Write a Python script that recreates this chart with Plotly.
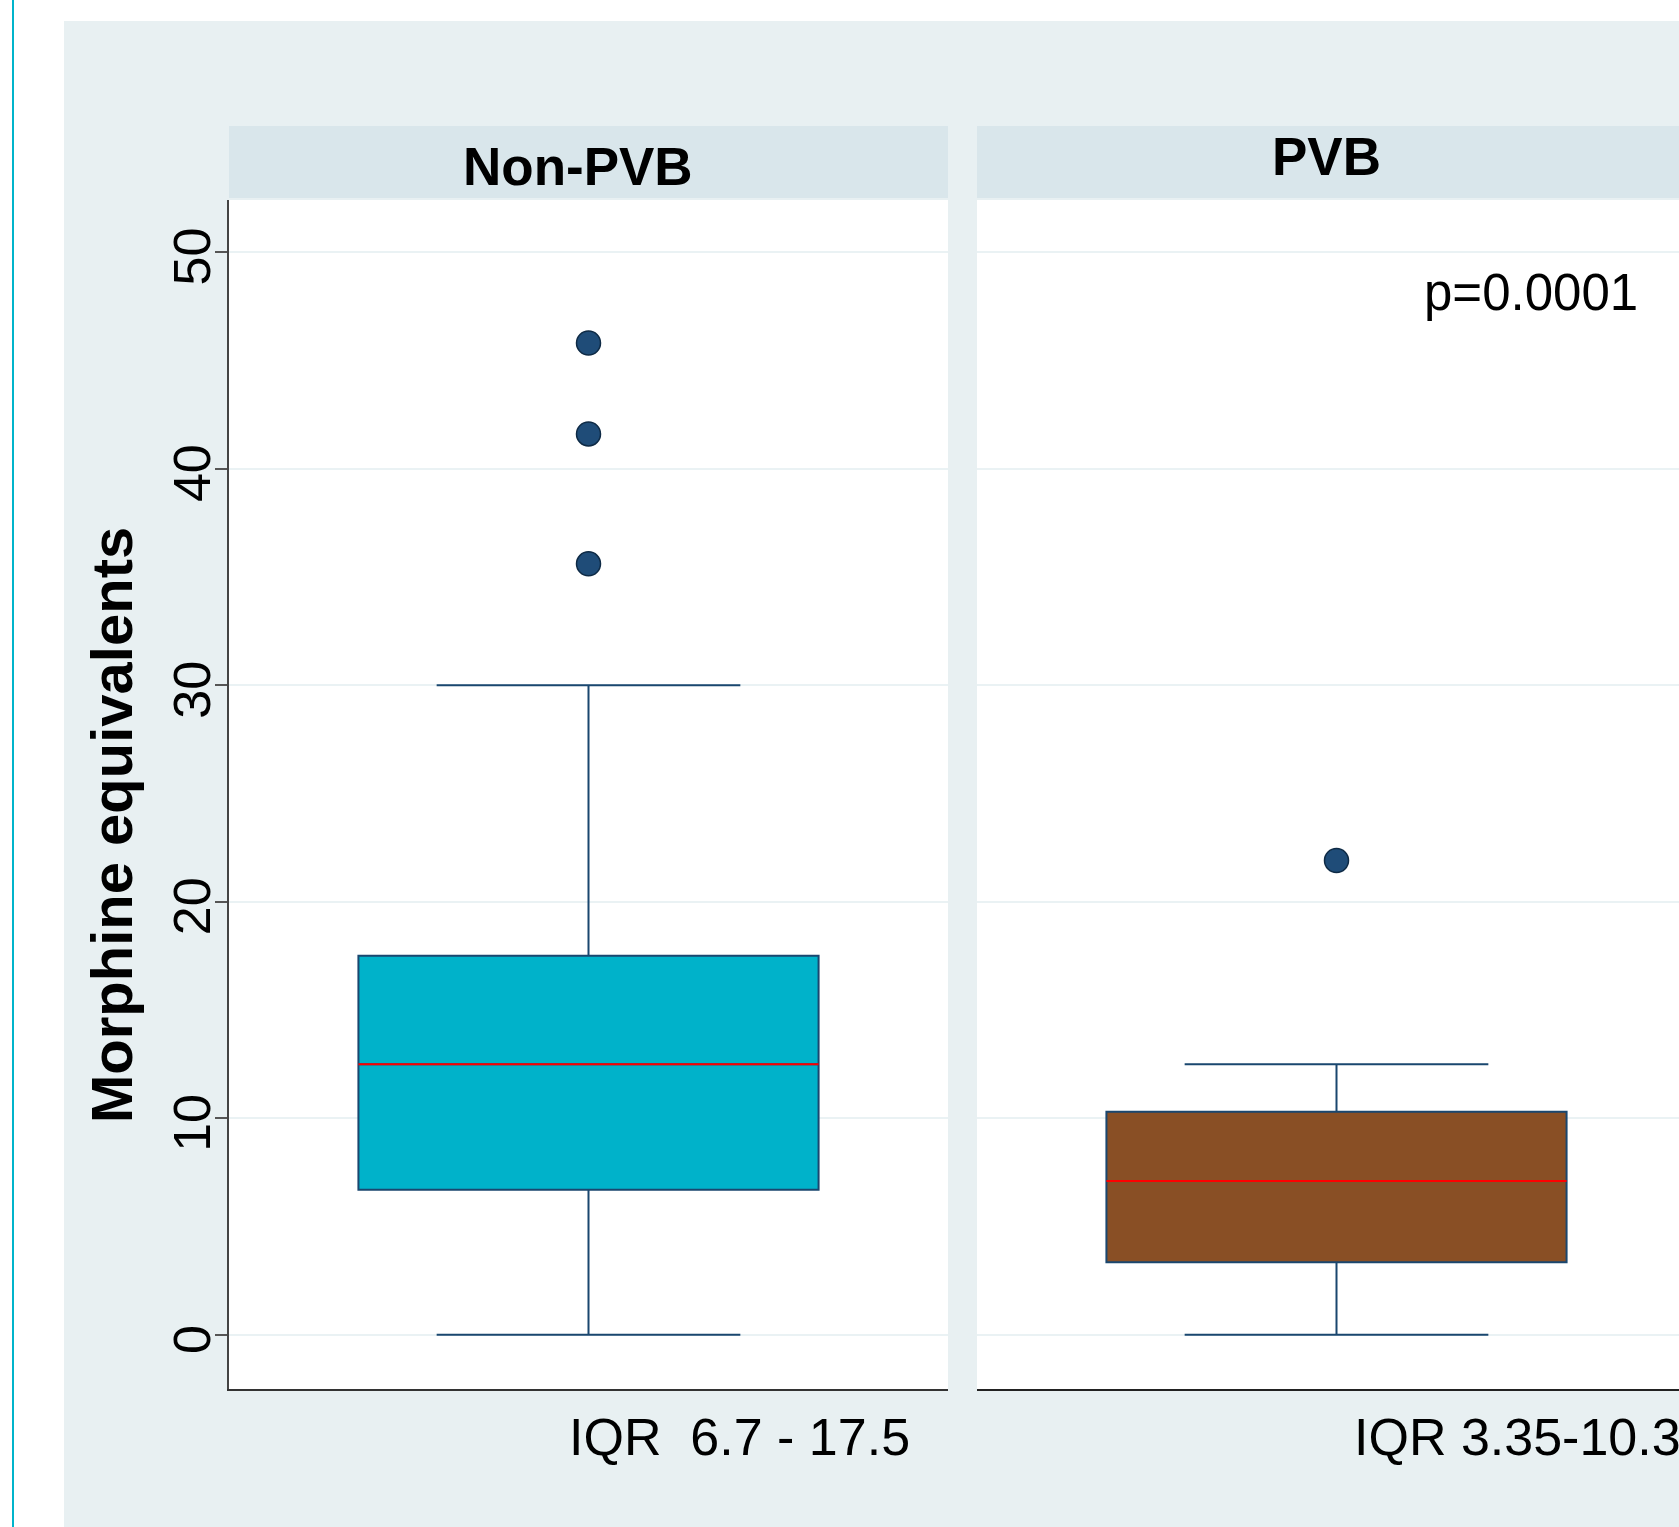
import plotly.graph_objects as go

# ---- data ----
groups = ["Non-PVB", "PVB"]
q1 = [6.7, 3.35]
median = [12.5, 7.1]
q3 = [17.5, 10.3]
lower_whisker = [0, 0]
upper_whisker = [30, 12.5]
outliers = [[45.8, 41.6, 35.6], [21.9]]
iqr_labels = ["IQR  6.7 - 17.5", "IQR 3.35-10.3"]
p_label = "p=0.0001"
y_title = "Morphine equivalents"
y_ticks = [0, 10, 20, 30, 40, 50]
y_ticktext = [str(v) + "\u00a0\u2009" for v in y_ticks]

# ---- styling ----
W, H = 1679, 1527
FONT = "Liberation Sans, Arial, sans-serif"
box_fill = ["#00B2CA", "#894F25"]
edge = "#1A476F"
box_w = 0.64
BG = "#E8F0F2"

def fx(p):
    return p / W

def fy(p):
    return 1 - p / H

fig = go.Figure()

axes = [("x", "y"), ("x2", "y2")]
for i, g in enumerate(groups):
    xa, ya = axes[i]
    fig.add_trace(go.Box(
        x=[0], q1=[q1[i]], median=[median[i]], q3=[q3[i]],
        lowerfence=[lower_whisker[i]], upperfence=[upper_whisker[i]],
        width=box_w, whiskerwidth=0.66, fillcolor=box_fill[i],
        line=dict(color=edge, width=2), boxpoints=False,
        xaxis=xa, yaxis=ya, showlegend=False, name=g))
    # red median line
    fig.add_trace(go.Scatter(
        x=[-box_w / 2, box_w / 2], y=[median[i], median[i]], mode="lines",
        line=dict(color="#FF0000", width=2), xaxis=xa, yaxis=ya,
        showlegend=False, hoverinfo="skip"))
    # outliers
    fig.add_trace(go.Scatter(
        x=[0] * len(outliers[i]), y=outliers[i], mode="markers",
        marker=dict(color="#1F4C78", size=24, line=dict(color="#0E2A45", width=1.5)),
        xaxis=xa, yaxis=ya, showlegend=False))

yrange = [-2.5, 52.4]
ydom = [fy(1389), fy(200)]

fig.update_layout(
    width=W, height=H,
    margin=dict(l=0, r=0, t=0, b=0, autoexpand=False),
    paper_bgcolor=BG, plot_bgcolor="white",
    font=dict(family=FONT, color="black"),
    xaxis=dict(domain=[fx(229), fx(948)], range=[-0.5, 0.5], showticklabels=False,
               showgrid=False, zeroline=False, ticks="", showline=True,
               linecolor="#333333", linewidth=2, fixedrange=True),
    xaxis2=dict(domain=[fx(977), 1.0], range=[-0.5, 0.5 - (1 - 702 / 719)],
                showticklabels=False, showgrid=False, zeroline=False, ticks="",
                showline=True, linecolor="#222222", linewidth=2, anchor="y2"),
    yaxis=dict(domain=ydom, range=yrange, tickvals=y_ticks, ticktext=y_ticktext,
               tickangle=-90, ticks="outside", ticklen=12, tickwidth=1.5,
               tickcolor="#555555", ticklabelstandoff=-16,
               tickfont=dict(size=52, family=FONT, color="black"),
               showgrid=True, gridcolor="#EAF2F4", gridwidth=2, zeroline=False,
               showline=True, linecolor="#444444", linewidth=1.5, anchor="x"),
    yaxis2=dict(domain=ydom, range=yrange, tickvals=y_ticks, showticklabels=False,
                ticks="", showgrid=True, gridcolor="#EAF2F4", gridwidth=2,
                zeroline=False, showline=False, anchor="x2"),
)

shapes = [
    # white page strips outside the graph region
    dict(type="rect", xref="paper", yref="paper", x0=0, x1=fx(64), y0=0, y1=1,
         fillcolor="white", line=dict(width=0), layer="below"),
    dict(type="rect", xref="paper", yref="paper", x0=0, x1=1, y0=fy(21), y1=1,
         fillcolor="white", line=dict(width=0), layer="below"),
    # left cyan rule
    dict(type="line", xref="paper", yref="paper", x0=fx(13), x1=fx(13), y0=0, y1=1,
         line=dict(color="#00B4CB", width=2), layer="below"),
    # strip headers
    dict(type="rect", xref="paper", yref="paper", x0=fx(229), x1=fx(948),
         y0=fy(198), y1=fy(126), fillcolor="#D9E6EB", line=dict(width=0), layer="below"),
    dict(type="rect", xref="paper", yref="paper", x0=fx(977), x1=1,
         y0=fy(198), y1=fy(126), fillcolor="#D9E6EB", line=dict(width=0), layer="below"),
]
fig.update_layout(shapes=shapes)

annotations = [
    dict(text="<b>" + groups[0] + "</b>", x=fx(578), y=fy(166), xref="paper", yref="paper",
         showarrow=False, xanchor="center", yanchor="middle", font=dict(size=53, family=FONT)),
    dict(text="<b>" + groups[1] + "</b>", x=fx(1326), y=fy(157), xref="paper", yref="paper",
         showarrow=False, xanchor="center", yanchor="middle", font=dict(size=53, family=FONT)),
    dict(text=p_label, x=fx(1422), y=fy(292), xref="paper", yref="paper",
         showarrow=False, xanchor="left", yanchor="middle", font=dict(size=51, family=FONT)),
    dict(text=iqr_labels[0], x=fx(567), y=fy(1437), xref="paper", yref="paper",
         showarrow=False, xanchor="left", yanchor="middle", font=dict(size=52, family=FONT)),
    dict(text=iqr_labels[1], x=fx(1352), y=fy(1437), xref="paper", yref="paper",
         showarrow=False, xanchor="left", yanchor="middle", font=dict(size=52, family=FONT)),
    dict(text="<b>" + y_title + "</b>", x=fx(112), y=fy(825), xref="paper", yref="paper",
         showarrow=False, textangle=-90, xanchor="center", yanchor="middle",
         font=dict(size=58, family=FONT)),
]
fig.update_layout(annotations=annotations)

fig.write_html("out.html", config={"displayModeBar": False},
               post_script="document.body.style.margin='0';document.body.style.overflow='hidden';")
